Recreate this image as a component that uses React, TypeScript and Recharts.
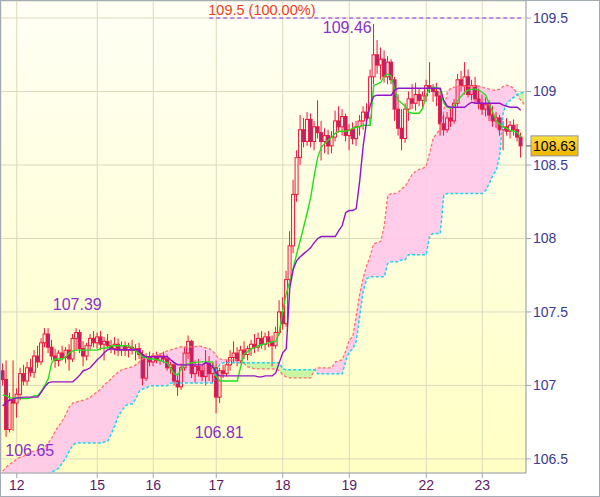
import React from 'react';
import { ComposedChart, Bar, Line, Area, XAxis, YAxis, CartesianGrid, ReferenceLine, ReferenceDot } from 'recharts';

const FONT = 'Arial, "Liberation Sans", sans-serif';

// x axis: bar index -> day label
const dayTicks = [4, 27, 43, 61, 80, 99, 121, 137];
const dayLabels = ['12', '15', '16', '17', '18', '19', '22', '23'];
const priceTicks = [106.5, 107, 107.5, 108, 108.5, 109, 109.5];

const opens = [
  107.10, 107.04, 106.70, 106.90, 106.88, 106.94, 107.08, 107.03, 107.12, 107.09,
  107.20, 107.16, 107.29, 107.35, 107.26, 107.20, 107.17, 107.22, 107.19, 107.24,
  107.18, 107.32, 107.36, 107.25, 107.20, 107.27, 107.32, 107.29, 107.33, 107.28,
  107.30, 107.27, 107.25, 107.28, 107.24, 107.27, 107.24, 107.26, 107.24, 107.25,
  107.21, 107.05, 107.19, 107.16, 107.20, 107.17, 107.20, 107.18, 107.12, 107.14,
  107.03, 106.99, 107.12, 107.22, 107.30, 107.08, 107.13, 107.10, 107.06, 107.15,
  107.08, 107.12, 106.92, 107.10, 107.08, 107.14, 107.19, 107.22, 107.17, 107.24,
  107.21, 107.25, 107.28, 107.26, 107.32, 107.28, 107.33, 107.30, 107.27, 107.36,
  107.50, 107.42, 107.72, 107.95, 108.30, 108.55, 108.74, 108.66, 108.81, 108.66,
  108.76, 108.72, 108.66, 108.70, 108.63, 108.69, 108.80, 108.76, 108.83, 108.70,
  108.74, 108.68, 108.76, 108.80, 108.86, 108.82, 109.10, 109.25, 109.18, 109.22,
  109.10, 109.20, 109.08, 108.88, 108.75, 108.68, 108.88, 108.95, 108.92, 108.98,
  108.94, 108.97, 109.04, 109.02, 109.00, 108.97, 108.78, 108.74, 108.82, 108.80,
  108.92, 109.08, 109.04, 109.10, 108.98, 109.04, 108.95, 108.92, 108.88, 108.91,
  108.84, 108.80, 108.82, 108.74, 108.76, 108.73, 108.77, 108.74, 108.69,
];

const highs = [
  107.15, 107.17, 106.95, 107.17, 106.98, 107.12, 107.14, 107.16, 107.18, 107.24,
  107.27, 107.32, 107.39, 107.39, 107.31, 107.25, 107.24, 107.27, 107.26, 107.28,
  107.35, 107.39, 107.38, 107.30, 107.29, 107.35, 107.37, 107.36, 107.37, 107.33,
  107.35, 107.31, 107.33, 107.32, 107.30, 107.30, 107.29, 107.31, 107.28, 107.29,
  107.24, 107.22, 107.23, 107.22, 107.23, 107.22, 107.23, 107.21, 107.16, 107.16,
  107.08, 107.15, 107.26, 107.34, 107.31, 107.17, 107.18, 107.14, 107.24, 107.20,
  107.16, 107.17, 107.12, 107.14, 107.17, 107.24, 107.30, 107.26, 107.27, 107.30,
  107.27, 107.31, 107.35, 107.36, 107.37, 107.36, 107.37, 107.34, 107.40, 107.58,
  107.60, 107.78, 108.05, 108.40, 108.60, 108.84, 108.82, 108.86, 108.85, 108.80,
  108.94, 108.80, 108.75, 108.74, 108.73, 108.87, 108.90, 108.88, 108.85, 108.78,
  108.79, 108.80, 108.84, 108.90, 108.92, 109.15, 109.46, 109.35, 109.30, 109.28,
  109.24, 109.22, 109.10, 108.98, 108.88, 108.92, 109.00, 109.05, 109.06, 109.02,
  109.00, 109.08, 109.20, 109.05, 109.06, 109.00, 108.85, 108.86, 108.88, 108.95,
  109.12, 109.14, 109.20, 109.15, 109.08, 109.10, 109.02, 108.98, 108.96, 108.94,
  108.90, 108.86, 108.84, 108.80, 108.82, 108.80, 108.81, 108.78, 108.72,
];

const lows = [
  107.00, 106.65, 106.68, 106.69, 106.78, 106.90, 107.00, 107.00, 107.06, 107.05,
  107.12, 107.14, 107.26, 107.22, 107.17, 107.12, 107.13, 107.17, 107.15, 107.10,
  107.16, 107.24, 107.22, 107.13, 107.17, 107.24, 107.26, 107.25, 107.24, 107.17,
  107.26, 107.22, 107.21, 107.20, 107.20, 107.20, 107.19, 107.21, 107.17, 107.18,
  107.00, 107.03, 107.13, 107.13, 107.15, 107.14, 107.15, 107.10, 107.08, 107.00,
  106.93, 106.97, 107.10, 107.18, 107.05, 107.02, 107.06, 107.03, 107.00, 107.03,
  107.02, 106.81, 106.88, 107.05, 107.06, 107.10, 107.15, 107.13, 107.15, 107.18,
  107.17, 107.20, 107.22, 107.23, 107.25, 107.24, 107.26, 107.13, 107.25, 107.34,
  107.38, 107.40, 107.68, 107.90, 108.25, 108.50, 108.62, 108.63, 108.62, 108.60,
  108.68, 108.53, 108.58, 108.57, 108.58, 108.66, 108.72, 108.70, 108.66, 108.60,
  108.64, 108.63, 108.70, 108.74, 108.78, 108.78, 109.05, 109.12, 109.08, 109.06,
  109.05, 109.05, 108.80, 108.70, 108.60, 108.65, 108.80, 108.88, 108.87, 108.90,
  108.88, 108.93, 108.99, 108.93, 108.90, 108.70, 108.70, 108.72, 108.76, 108.78,
  108.90, 109.00, 108.98, 108.96, 108.94, 108.92, 108.88, 108.84, 108.83, 108.80,
  108.76, 108.75, 108.70, 108.60, 108.70, 108.68, 108.70, 108.66, 108.55,
];

const closes = [
  107.04, 106.70, 106.90, 106.88, 106.94, 107.08, 107.03, 107.12, 107.09, 107.20,
  107.16, 107.29, 107.35, 107.26, 107.20, 107.17, 107.22, 107.19, 107.24, 107.18,
  107.32, 107.36, 107.25, 107.20, 107.27, 107.32, 107.29, 107.33, 107.28, 107.30,
  107.27, 107.25, 107.28, 107.24, 107.27, 107.24, 107.26, 107.24, 107.25, 107.21,
  107.05, 107.19, 107.16, 107.20, 107.17, 107.20, 107.18, 107.12, 107.14, 107.03,
  106.99, 107.12, 107.22, 107.30, 107.08, 107.13, 107.10, 107.06, 107.15, 107.08,
  107.12, 106.92, 107.10, 107.08, 107.14, 107.19, 107.22, 107.17, 107.24, 107.21,
  107.25, 107.28, 107.26, 107.32, 107.28, 107.33, 107.30, 107.27, 107.36, 107.50,
  107.42, 107.72, 107.95, 108.30, 108.55, 108.74, 108.66, 108.81, 108.66, 108.76,
  108.72, 108.66, 108.70, 108.63, 108.69, 108.80, 108.76, 108.83, 108.70, 108.74,
  108.68, 108.76, 108.80, 108.86, 108.82, 109.10, 109.25, 109.18, 109.22, 109.10,
  109.20, 109.08, 108.88, 108.75, 108.68, 108.88, 108.95, 108.92, 108.98, 108.94,
  108.97, 109.04, 109.02, 109.00, 108.97, 108.78, 108.74, 108.82, 108.80, 108.92,
  109.08, 109.04, 109.10, 108.98, 109.04, 108.95, 108.92, 108.88, 108.91, 108.84,
  108.80, 108.82, 108.74, 108.76, 108.73, 108.77, 108.74, 108.69, 108.63,
];

const tenkanSen = [
  106.935, 106.93, 106.915, 106.915, 106.915, 106.91, 106.91, 106.91, 106.915, 106.93,
  106.93, 106.96, 107.00, 107.045, 107.155, 107.18, 107.18, 107.18, 107.195, 107.22,
  107.235, 107.24, 107.24, 107.24, 107.24, 107.24, 107.24, 107.24, 107.25, 107.255,
  107.255, 107.27, 107.27, 107.27, 107.27, 107.27, 107.27, 107.255, 107.235, 107.215,
  107.195, 107.19, 107.18, 107.18, 107.175, 107.17, 107.16, 107.155, 107.113, 107.08,
  107.07, 107.11, 107.14, 107.147, 107.155, 107.155, 107.16, 107.16, 107.16, 107.16,
  107.16, 107.065, 107.03, 107.03, 107.03, 107.03, 107.03, 107.03, 107.13, 107.215,
  107.23, 107.25, 107.255, 107.27, 107.277, 107.283, 107.29, 107.297, 107.30, 107.357,
  107.51, 107.624, 107.706, 107.80, 107.897, 107.986, 108.081, 108.177, 108.279, 108.43,
  108.552, 108.62, 108.647, 108.668, 108.688, 108.715, 108.73, 108.73, 108.73, 108.735,
  108.75, 108.757, 108.763, 108.77, 108.77, 108.77, 109.043, 109.05, 109.063, 109.104,
  109.118, 109.104, 109.01, 108.94, 108.92, 108.90, 108.86, 108.852, 108.852, 108.852,
  108.886, 108.975, 109.022, 109.03, 109.03, 109.01, 108.92, 108.893, 108.886, 108.906,
  108.94, 108.968, 108.995, 109.01, 109.016, 109.016, 109.01, 108.995, 108.975, 108.913,
  108.86, 108.80, 108.777, 108.757, 108.75, 108.736, 108.73, 108.722, 108.69,
];

const kijunSen = [
  106.86, 106.887, 106.90, 106.907, 106.915, 106.915, 106.92, 106.92, 106.92, 106.92,
  106.92, 106.955, 106.99, 107.017, 107.024, 107.024, 107.024, 107.024, 107.024, 107.024,
  107.024, 107.045, 107.07, 107.10, 107.107, 107.12, 107.147, 107.174, 107.195, 107.222,
  107.243, 107.25, 107.243, 107.243, 107.243, 107.243, 107.243, 107.243, 107.243, 107.243,
  107.208, 107.195, 107.195, 107.195, 107.195, 107.195, 107.195, 107.195, 107.174, 107.155,
  107.14, 107.14, 107.14, 107.14, 107.14, 107.14, 107.14, 107.14, 107.155, 107.147,
  107.126, 107.085, 107.065, 107.065, 107.065, 107.065, 107.065, 107.065, 107.065, 107.065,
  107.065, 107.065, 107.065, 107.058, 107.058, 107.065, 107.065, 107.065, 107.085, 107.155,
  107.222, 107.25, 107.66, 107.79, 107.85, 107.876, 107.897, 107.917, 107.938, 107.972,
  108.0, 108.013, 108.013, 108.013, 108.013, 108.013, 108.054, 108.088, 108.177, 108.19,
  108.19, 108.204, 108.395, 108.634, 108.804, 108.907, 108.968, 108.975, 108.975, 108.975,
  108.975, 108.975, 109.01, 109.022, 109.022, 109.022, 109.022, 109.022, 109.022, 109.022,
  109.022, 109.022, 109.022, 109.022, 109.022, 109.022, 108.94, 108.90, 108.893, 108.893,
  108.893, 108.893, 108.893, 108.913, 108.927, 108.92, 108.92, 108.92, 108.92, 108.92,
  108.92, 108.92, 108.92, 108.907, 108.90, 108.893, 108.893, 108.893, 108.872,
];

// cloud runs one bar past the last candle
const senkouA = [
  106.417, 106.444, 106.465, 106.478, 106.499, 106.512, 106.519, 106.533, 106.546, 106.553,
  106.56, 106.567, 106.58, 106.608, 106.642, 106.69, 106.724, 106.758, 106.80, 106.853,
  106.88, 106.887, 106.894, 106.90, 106.907, 106.92, 106.94, 106.955, 106.976, 107.003,
  107.024, 107.045, 107.072, 107.092, 107.106, 107.113, 107.12, 107.126, 107.14, 107.16,
  107.181, 107.188, 107.195, 107.20, 107.208, 107.215, 107.222, 107.235, 107.242, 107.25,
  107.256, 107.263, 107.263, 107.263, 107.263, 107.263, 107.27, 107.263, 107.256, 107.25,
  107.235, 107.20, 107.181, 107.174, 107.174, 107.174, 107.174, 107.174, 107.167, 107.147,
  107.126, 107.12, 107.113, 107.113, 107.113, 107.113, 107.113, 107.113, 107.113, 107.10,
  107.072, 107.058, 107.051, 107.051, 107.051, 107.051, 107.051, 107.051, 107.051, 107.106,
  107.12, 107.12, 107.12, 107.12, 107.12, 107.16, 107.167, 107.174, 107.235, 107.31,
  107.33, 107.474, 107.624, 107.733, 107.815, 107.883, 107.965, 107.972, 107.979, 108.088,
  108.293, 108.306, 108.306, 108.313, 108.34, 108.354, 108.395, 108.436, 108.457, 108.47,
  108.477, 108.49, 108.586, 108.682, 108.716, 108.743, 108.872, 108.995, 109.022, 109.03,
  109.036, 109.036, 109.036, 109.036, 109.036, 109.036, 109.036, 109.03, 109.022, 109.016,
  109.01, 109.01, 109.016, 109.036, 109.043, 109.036, 109.022, 108.98, 108.94, 108.913,
];

const senkouB = [
  106.33, 106.33, 106.33, 106.33, 106.33, 106.33, 106.33, 106.33, 106.33, 106.33,
  106.33, 106.376, 106.39, 106.396, 106.41, 106.424, 106.437, 106.471, 106.506, 106.553,
  106.594, 106.608, 106.608, 106.608, 106.608, 106.608, 106.608, 106.608, 106.608, 106.615,
  106.62, 106.67, 106.724, 106.792, 106.826, 106.86, 106.874, 106.874, 106.908, 106.96,
  106.976, 106.983, 106.997, 106.997, 106.997, 106.997, 106.997, 106.997, 107.017, 107.017,
  107.017, 107.017, 107.017, 107.017, 107.017, 107.017, 107.017, 107.017, 107.017, 107.017,
  107.017, 107.10, 107.14, 107.154, 107.154, 107.154, 107.154, 107.154, 107.154, 107.154,
  107.154, 107.154, 107.154, 107.154, 107.154, 107.154, 107.154, 107.154, 107.154, 107.154,
  107.113, 107.106, 107.106, 107.106, 107.106, 107.106, 107.106, 107.106, 107.106, 107.106,
  107.079, 107.079, 107.079, 107.079, 107.079, 107.079, 107.079, 107.079, 107.167, 107.228,
  107.249, 107.30, 107.474, 107.644, 107.726, 107.74, 107.74, 107.74, 107.74, 107.74,
  107.83, 107.842, 107.842, 107.842, 107.856, 107.856, 107.89, 107.89, 107.89, 107.89,
  107.89, 107.89, 108.02, 108.033, 108.033, 108.033, 108.293, 108.306, 108.306, 108.306,
  108.306, 108.306, 108.306, 108.306, 108.306, 108.306, 108.306, 108.306, 108.327, 108.375,
  108.43, 108.463, 108.565, 108.859, 108.92, 108.94, 108.96, 108.98, 108.99, 108.995,
];

const lastPrice = 108.63;
const topLevel = 109.5;
const levelStart = 59;
// marked extremes: bar index and price
const markIdx = [106, 21, 61, 1];
const markVal = [109.46, 107.39, 106.81, 106.65];

const CANDLE = '#f0143c';
const BEAR_FILL = '#a8287a';
const MARK = '#8b2fc9';

const data = senkouA.map((a, i) => {
  const b = senkouB[i];
  const has = i < opens.length;
  return {
    i,
    open: has ? opens[i] : null,
    high: has ? highs[i] : null,
    low: has ? lows[i] : null,
    close: has ? closes[i] : null,
    tenkan: has ? tenkanSen[i] : null,
    kijun: has ? kijunSen[i] : null,
    spanA: a,
    spanB: b,
    pink: [b, Math.max(a, b)],
    green: [a, Math.max(a, b)],
  };
});

const dayLabelOf: Record<number, string> = {};
dayTicks.forEach((t, k) => { dayLabelOf[t] = dayLabels[k]; });

const Candle = (props: any) => {
  const { x, y, width, height, payload } = props;
  if (!payload || payload.open == null) return null;
  const { open, close, high, low } = payload;
  const cx = x + width / 2;
  const range = high - low || 1;
  const toY = (v: number) => y + ((high - v) / range) * height;
  const top = Math.min(toY(open), toY(close));
  const bot = Math.max(toY(open), toY(close));
  const up = close >= open;
  return (
    <g>
      <line x1={cx} x2={cx} y1={y} y2={top} stroke={CANDLE} strokeWidth={1} />
      <line x1={cx} x2={cx} y1={bot} y2={y + height} stroke={CANDLE} strokeWidth={1} />
      <rect x={cx - 1.5} y={top} width={3} height={Math.max(bot - top, 1)} fill={up ? 'none' : BEAR_FILL} stroke={CANDLE} strokeWidth={1} />
    </g>
  );
};

const markText = (text: string, dx: number, dy: number, anchor: string) => (p: any) => (
  <text x={p.cx + dx} y={p.cy + dy} textAnchor={anchor} fill={MARK} fontSize={16} fontFamily={FONT}>{text}</text>
);

const levelLabel = (p: any) => (
  <text x={p.viewBox.x - 1} y={p.viewBox.y - 3} fill="#f03c1e" fontSize={14.5} fontFamily={FONT}>
    {`${topLevel} (100.00%)`}
  </text>
);

const priceLabel = (p: any) => {
  const right = p.viewBox.x + p.viewBox.width;
  const yy = p.viewBox.y;
  return (
    <g>
      <line x1={right} x2={right + 5} y1={yy} y2={yy} stroke="#444" />
      <rect x={right + 5} y={yy - 10} width={47} height={20} fill="url(#priceBox)" stroke="#8d9298" />
      <text x={right + 28.5} y={yy + 5} textAnchor="middle" fill="#000" fontSize={14} fontFamily={FONT}>{lastPrice.toFixed(2)}</text>
    </g>
  );
};

export default function App() {
  return (
    <div style={{ width: 600, height: 497, boxSizing: 'border-box', border: '1px solid #a3abb4', background: '#fff', fontFamily: FONT }}>
      <style>{'body{margin:0}'}</style>
      <ComposedChart width={598} height={495} data={data} margin={{ top: 0, right: 0, bottom: 0, left: 0 }}>
        <defs>
          <linearGradient id="plotBg" x1="0" y1="0" x2="0" y2="1">
            <stop offset="0%" stopColor="#fffff5" />
            <stop offset="100%" stopColor="#ffffc4" />
          </linearGradient>
          <linearGradient id="priceBox" x1="0" y1="0" x2="0" y2="1">
            <stop offset="0%" stopColor="#ffdf40" />
            <stop offset="100%" stopColor="#efb400" />
          </linearGradient>
        </defs>
        <CartesianGrid fill="url(#plotBg)" stroke="#dcd9bd" />
        <XAxis
          dataKey="i"
          type="category"
          ticks={dayTicks}
          interval={0}
          tickFormatter={(v) => dayLabelOf[v] ?? ''}
          height={23}
          tickSize={5}
          tickMargin={2}
          stroke="#9ea6b0"
          tick={{ fill: '#5e1a63', fontSize: 14 }}
        />
        <YAxis
          orientation="right"
          type="number"
          domain={[106.404, 109.616]}
          allowDataOverflow
          ticks={priceTicks}
          interval={0}
          width={73}
          tickSize={5}
          tickMargin={2}
          stroke="#9ea6b0"
          tick={{ fill: '#3a3a96', fontSize: 14 }}
        />
        <Area dataKey={(d: any) => d.pink} type="linear" stroke="none" fill="#ffc6ea" fillOpacity={0.9} dot={false} activeDot={false} isAnimationActive={false} />
        <Area dataKey={(d: any) => d.green} type="linear" stroke="none" fill="#c4f5a0" fillOpacity={0.9} dot={false} activeDot={false} isAnimationActive={false} />
        <Line dataKey="spanA" type="linear" stroke="#ff6f6f" strokeWidth={1.3} strokeDasharray="3 2" dot={false} activeDot={false} isAnimationActive={false} />
        <Line dataKey="spanB" type="linear" stroke="#1cd6ee" strokeWidth={1.5} strokeDasharray="3 2" dot={false} activeDot={false} isAnimationActive={false} />
        <Bar dataKey={(d: any) => (d.open == null ? null : [d.low, d.high])} barSize={4} shape={Candle} isAnimationActive={false} />
        <Line dataKey="tenkan" type="linear" stroke="#1ee01e" strokeWidth={1.4} dot={false} activeDot={false} isAnimationActive={false} />
        <Line dataKey="kijun" type="linear" stroke="#9412c8" strokeWidth={1.4} dot={false} activeDot={false} isAnimationActive={false} />
        <ReferenceLine
          segment={[{ x: levelStart, y: topLevel }, { x: data.length - 1, y: topLevel }]}
          stroke="#8a2be2"
          strokeDasharray="4 3"
          label={levelLabel}
        />
        <ReferenceLine y={lastPrice} stroke="none" label={priceLabel} />
        <ReferenceDot x={markIdx[0]} y={markVal[0]} r={0} shape={markText(markVal[0].toFixed(2), -2, 9, 'end')} />
        <ReferenceDot x={markIdx[1]} y={markVal[1]} r={0} shape={markText(markVal[1].toFixed(2), 1, -18, 'middle')} />
        <ReferenceDot x={markIdx[2]} y={markVal[2]} r={0} shape={markText(markVal[2].toFixed(2), 3, 25, 'middle')} />
        <ReferenceDot x={markIdx[3]} y={markVal[3]} r={0} shape={markText(markVal[3].toFixed(2), -1, 19, 'start')} />
      </ComposedChart>
    </div>
  );
}
